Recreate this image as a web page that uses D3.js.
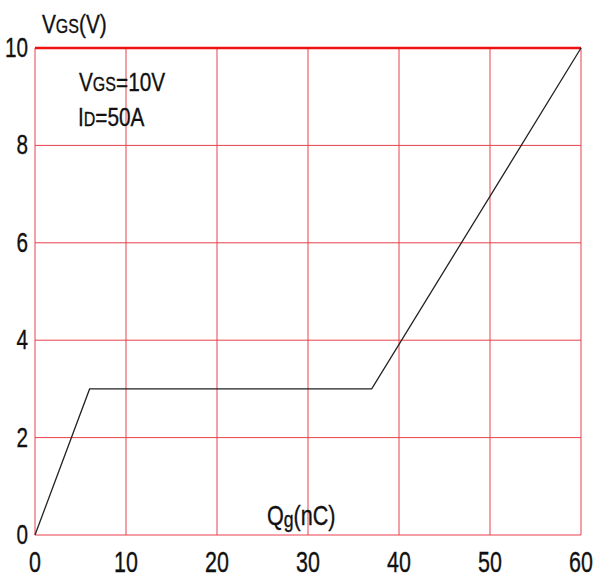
<!DOCTYPE html>
<html>
<head>
<meta charset="utf-8">
<script src="https://cdn.jsdelivr.net/npm/d3@7"></script>
<style>
  body { margin: 0; background: #fff; }
  text { font-family: "Liberation Sans", Arial, sans-serif; fill: #111; stroke: #111; stroke-width: 0.35; }
</style>
</head>
<body>
<svg id="chart" width="598" height="580"></svg>
<script>
// gate charge curve
const qgValues = [0, 6, 37, 60];
const vgsValues = [0, 3, 3, 10];
const xTicks = [0, 10, 20, 30, 40, 50, 60];
const yTicks = [0, 2, 4, 6, 8, 10];

const svg = d3.select("#chart");
const margin = { left: 35, right: 17, top: 48, bottom: 45 };
const width = +svg.attr("width");
const height = +svg.attr("height");

const x = d3.scaleLinear().domain([0, 60]).range([margin.left, width - margin.right]);
const y = d3.scaleLinear().domain([0, 10]).range([height - margin.bottom, margin.top]);

const gridColor = "#e8404c";
const squeeze = 0.74; // text in the original is narrow

// vertical grid
svg.append("g")
  .selectAll("line")
  .data(xTicks)
  .enter()
  .append("line")
  .attr("x1", d => x(d))
  .attr("x2", d => x(d))
  .attr("y1", y(0))
  .attr("y2", y(10))
  .attr("stroke", gridColor)
  .attr("stroke-width", 1);

// horizontal grid
svg.append("g")
  .selectAll("line")
  .data(yTicks)
  .enter()
  .append("line")
  .attr("x1", x(0))
  .attr("x2", x(60))
  .attr("y1", d => y(d))
  .attr("y2", d => y(d))
  .attr("stroke", d => d === 10 ? "#ee1111" : gridColor)
  .attr("stroke-width", d => d === 10 ? 2.5 : 1);

// tick labels
svg.append("g")
  .selectAll("text")
  .data(xTicks)
  .enter()
  .append("text")
  .attr("transform", d => `translate(${x(d)},${y(0) + 37}) scale(${squeeze},1)`)
  .attr("text-anchor", "middle")
  .attr("font-size", 29)
  .text(d => d);

svg.append("g")
  .selectAll("text")
  .data(yTicks)
  .enter()
  .append("text")
  .attr("transform", d => `translate(${x(0) - 7},${y(d) + 9}) scale(${squeeze},1)`)
  .attr("text-anchor", "end")
  .attr("font-size", 28)
  .text(d => d);

// curve
const line = d3.line()
  .x(d => x(d[0]))
  .y(d => y(d[1]));

svg.append("path")
  .datum(qgValues.map((q, i) => [q, vgsValues[i]]))
  .attr("d", line)
  .attr("fill", "none")
  .attr("stroke", "#222")
  .attr("stroke-width", 1.3);

// axis titles and annotations
function label(px, py, size) {
  return svg.append("text")
    .attr("transform", `translate(${px},${py}) scale(0.8,1)`)
    .attr("font-size", size);
}

const yTitle = label(42, 33, 26);
yTitle.append("tspan").text("V");
yTitle.append("tspan").attr("font-size", 20).text("GS");
yTitle.append("tspan").text("(V)");

const note1 = label(79, 91, 26);
note1.append("tspan").text("V");
note1.append("tspan").attr("font-size", 20).text("GS");
note1.append("tspan").text("=10V");

const note2 = label(78, 126, 26);
note2.append("tspan").text("I");
note2.append("tspan").attr("font-size", 20).text("D");
note2.append("tspan").text("=50A");

const xTitle = label(267, 525, 27);
xTitle.append("tspan").text("Q");
xTitle.append("tspan").attr("font-size", 22).attr("dy", 2).text("g");
xTitle.append("tspan").attr("dy", -2).text("(nC)");
</script>
</body>
</html>
